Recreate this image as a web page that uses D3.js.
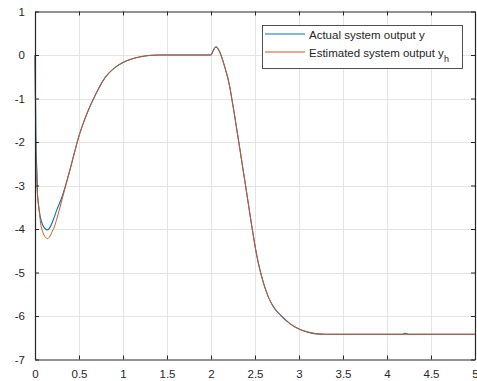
<!DOCTYPE html>
<html><head><meta charset="utf-8">
<script src="https://cdn.jsdelivr.net/npm/d3@7"></script>
<style>body{margin:0;background:#fff}svg{display:block}text{font-family:"Liberation Sans",Arial,sans-serif}</style>
</head><body>
<svg id="c" width="477" height="381"></svg>
<script>
const xTicks = [0,0.5,1,1.5,2,2.5,3,3.5,4,4.5,5];
const yTicks = [-7,-6,-5,-4,-3,-2,-1,0,1];
const seriesNames = ["Actual system output y", "Estimated system output y"];
const actualX = [0,0.004,0.008,0.012,0.018,0.024,0.028,0.04,0.06,0.09,0.12,0.14,0.165,0.19,0.22,0.25,0.3,0.35,0.4,0.45,0.5,0.55,0.6,0.65,0.7,0.75,0.8,0.9,1.0,1.1,1.2,1.3,1.4,2.0,2.02,2.04,2.057,2.075,2.1,2.13,2.16,2.19,2.215,2.24,2.265,2.29,2.31,2.335,2.36,2.385,2.41,2.435,2.46,2.485,2.51,2.54,2.57,2.61,2.66,2.72,2.8,2.9,3.0,3.1,3.2,3.3,4.18,4.2,4.23,4.25,5.0];
const actualY = [0,-0.8,-1.3,-2.15,-2.5,-2.78,-3.2,-3.45,-3.72,-3.92,-4.0,-4.02,-3.98,-3.88,-3.72,-3.55,-3.3,-2.98,-2.62,-2.23,-1.86,-1.56,-1.3,-1.07,-0.86,-0.67,-0.51,-0.3,-0.17,-0.09,-0.04,-0.01,0,0,0.08,0.16,0.19,0.16,0.07,-0.1,-0.3,-0.52,-0.75,-1.05,-1.35,-1.67,-1.93,-2.25,-2.58,-2.9,-3.23,-3.56,-3.89,-4.2,-4.5,-4.8,-5.05,-5.33,-5.6,-5.82,-6.0,-6.18,-6.3,-6.37,-6.41,-6.42,-6.42,-6.40,-6.41,-6.42,-6.42];
const estX = [0,0.004,0.008,0.015,0.025,0.035,0.05,0.065,0.09,0.115,0.14,0.165,0.19,0.22,0.25,0.3,0.35,0.4,0.45,0.5,0.55,0.6,0.65,0.7,0.75,0.8,0.9,1.0,1.1,1.2,1.3,1.4,2.0,2.02,2.04,2.057,2.075,2.1,2.13,2.16,2.19,2.215,2.24,2.265,2.29,2.31,2.335,2.36,2.385,2.41,2.435,2.46,2.485,2.51,2.54,2.57,2.61,2.66,2.72,2.8,2.9,3.0,3.1,3.2,3.3,5.0];
const estY = [0,-1.0,-2.0,-2.7,-3.1,-3.35,-3.62,-3.88,-4.08,-4.18,-4.22,-4.18,-4.08,-3.95,-3.75,-3.38,-3.0,-2.62,-2.23,-1.86,-1.56,-1.3,-1.07,-0.86,-0.67,-0.51,-0.3,-0.17,-0.09,-0.04,-0.01,0,0,0.07,0.15,0.18,0.15,0.06,-0.1,-0.3,-0.52,-0.75,-1.05,-1.35,-1.67,-1.93,-2.25,-2.58,-2.9,-3.23,-3.56,-3.89,-4.2,-4.5,-4.8,-5.05,-5.33,-5.6,-5.82,-6.0,-6.18,-6.3,-6.37,-6.41,-6.42,-6.42];
const colors = ["#0072BD", "#D95319"];

const L=35, R=475, T=11.5, B=359.5;
const svg = d3.select("#c");
const x = d3.scaleLinear().domain([0,5]).range([L,R]);
const y = d3.scaleLinear().domain([-7,1]).range([B,T]);

// grid
const g = svg.append("g");
g.selectAll(".gx").data(xTicks.slice(1,-1)).join("line")
  .attr("x1",d=>Math.round(x(d))+0.5).attr("x2",d=>Math.round(x(d))+0.5).attr("y1",T).attr("y2",B)
  .attr("stroke","#e4e4e4").attr("stroke-width",1);
g.selectAll(".gy").data(yTicks.slice(1,-1)).join("line")
  .attr("y1",d=>Math.round(y(d))+0.5).attr("y2",d=>Math.round(y(d))+0.5).attr("x1",L).attr("x2",R)
  .attr("stroke","#e4e4e4").attr("stroke-width",1);

// lines
const line = d3.line().x(d=>x(d[0])).y(d=>y(d[1])).curve(d3.curveMonotoneX);
const aData = actualX.map((v,i)=>[v,actualY[i]]);
const eData = estX.map((v,i)=>[v,estY[i]]);
svg.append("path").datum(aData).attr("d",line).attr("fill","none").attr("stroke",colors[0]).attr("stroke-width",1.1);
svg.append("path").datum(eData).attr("d",line).attr("fill","none").attr("stroke",colors[1]).attr("stroke-width",1);

// axes
const tk = 4;
const fmt = d => String(d);
const ax = svg.append("g").attr("transform",`translate(0,${B})`)
  .call(d3.axisBottom(x).tickValues(xTicks).tickSizeInner(-tk).tickSizeOuter(0).tickPadding(10).tickFormat(fmt));
const axT = svg.append("g").attr("transform",`translate(0,${T})`)
  .call(d3.axisTop(x).tickValues(xTicks).tickSizeInner(-tk).tickSizeOuter(0).tickFormat(""));
const ay = svg.append("g").attr("transform",`translate(${L},0)`)
  .call(d3.axisLeft(y).tickValues(yTicks).tickSizeInner(-tk).tickSizeOuter(0).tickPadding(10).tickFormat(fmt));
const ayR = svg.append("g").attr("transform",`translate(${R},0)`)
  .call(d3.axisRight(y).tickValues(yTicks).tickSizeInner(-tk).tickSizeOuter(0).tickFormat(""));
[ax,axT,ay,ayR].forEach(a=>{
  a.select(".domain").attr("stroke","#262626").attr("stroke-width",1.2);
  a.selectAll(".tick line").attr("stroke","#262626");
  a.selectAll("text").attr("fill","#262626").style("font-size","11.5px").style("font-family",'"Liberation Sans",Arial,sans-serif');
});
ax.selectAll("text").attr("dy","0.71em").attr("y",10);

// legend
const lg = svg.append("g");
lg.append("rect").attr("x",262.5).attr("y",25.5).attr("width",200).attr("height",43)
  .attr("fill","#fff").attr("stroke","#262626").attr("stroke-width",0.8);
const rowsY = [34, 52];
seriesNames.forEach((n,i)=>{
  lg.append("line").attr("x1",265).attr("x2",305).attr("y1",rowsY[i]).attr("y2",rowsY[i])
    .attr("stroke",colors[i]).attr("stroke-width",1.2);
  const t = lg.append("text").attr("x",309).attr("y",rowsY[i]+4.5).attr("fill","#262626").style("font-size","11.5px").text(n);
  if(i===1) t.append("tspan").attr("dy",5).style("font-size","9px").text("h");
});
</script>
</body></html>
